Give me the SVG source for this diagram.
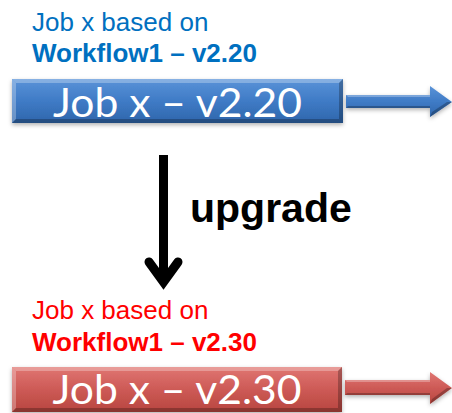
<svg xmlns="http://www.w3.org/2000/svg" width="452" height="413" viewBox="0 0 452 413">
<defs>
<style>
.cap{font-family:"Liberation Sans",Arial,sans-serif;font-size:26px}
.b{font-weight:bold}
.blue{fill:#0070c0}
.red{fill:#ff0000}
.lbl{font-family:Lato,"Open Sans",sans-serif;font-size:41px;fill:#ffffff}
.hl{fill:#ffffff;opacity:0.28}
.dk{fill:#000000;opacity:0.25}
</style>
<linearGradient id="gBlue" x1="0" y1="0" x2="0" y2="1">
<stop offset="0" stop-color="#5a93d8"/>
<stop offset="0.5" stop-color="#3f7bc6"/>
<stop offset="1" stop-color="#2f66ab"/>
</linearGradient>
<linearGradient id="gRed" x1="0" y1="0" x2="0" y2="1">
<stop offset="0" stop-color="#e07672"/>
<stop offset="0.5" stop-color="#cd5a56"/>
<stop offset="1" stop-color="#b8463f"/>
</linearGradient>
<filter id="sh" x="-10%" y="-20%" width="120%" height="160%">
<feDropShadow dx="0" dy="2" stdDeviation="2" flood-color="#000" flood-opacity="0.3"/>
</filter>
</defs>

<g id="top-caption">
<text class="cap blue" x="32" y="31">Job x based on</text>
<text class="cap b blue" x="32" y="62">Workflow1 – v2.20</text>
</g>

<g id="job-v220">
<rect x="12" y="79" width="331" height="44" fill="url(#gBlue)" filter="url(#sh)"/>
<polygon class="hl" points="12,79 343,79 339,83 16,83"/>
<polygon class="hl" points="12,79 16,83 16,119 12,123"/>
<polygon class="dk" points="12,123 16,119 339,119 343,123"/>
<polygon class="dk" points="343,79 343,123 339,119 339,83"/>
<text class="lbl" x="177.5" y="117" text-anchor="middle" textLength="249" lengthAdjust="spacingAndGlyphs">Job x – v2.20</text>
</g>

<g id="job-v230">
<rect x="12" y="367" width="330" height="45" fill="url(#gRed)" filter="url(#sh)"/>
<polygon class="hl" points="12,367 342,367 338,371 16,371"/>
<polygon class="hl" points="12,367 16,371 16,408 12,412"/>
<polygon class="dk" points="12,412 16,408 338,408 342,412"/>
<polygon class="dk" points="342,367 342,412 338,408 338,371"/>
<text class="lbl" x="177" y="404" text-anchor="middle" textLength="249" lengthAdjust="spacingAndGlyphs">Job x – v2.30</text>
</g>

<g id="bottom-caption">
<text class="cap red" x="32" y="319">Job x based on</text>
<text class="cap b red" x="32" y="351">Workflow1 – v2.30</text>
</g>

<g id="connectors">
<g id="arrow-blue" filter="url(#sh)">
<polygon points="346,95 430,95 430,86 452,102 430,117 430,108 346,108" fill="url(#gBlue)"/>
<polygon class="hl" points="346,95 430,95 430,97 348,97"/>
<polygon class="dk" points="346,108 430,108 430,106 348,106"/>
<polygon class="dk" points="430,117 452,102 447,102 432,112"/>
</g>
<g id="arrow-red" filter="url(#sh)">
<polygon points="345,380 430,380 430,372 452,388 430,404 430,395 345,395" fill="url(#gRed)"/>
<polygon class="hl" points="345,380 430,380 430,382 347,382"/>
<polygon class="dk" points="345,395 430,395 430,393 347,393"/>
<polygon class="dk" points="430,404 452,388 447,388 432,399"/>
</g>
<g id="upgrade-arrow">
<line x1="163.5" y1="155" x2="163.5" y2="282" stroke="#000" stroke-width="9"/>
<polyline points="149,262 163.5,282 178,262" fill="none" stroke="#000" stroke-width="9" stroke-linecap="round" stroke-linejoin="miter" stroke-miterlimit="10"/>
</g>
<text x="190" y="222" font-family="Liberation Sans,Arial,sans-serif" font-weight="bold" font-size="41" fill="#000">upgrade</text>
</g>
</svg>
